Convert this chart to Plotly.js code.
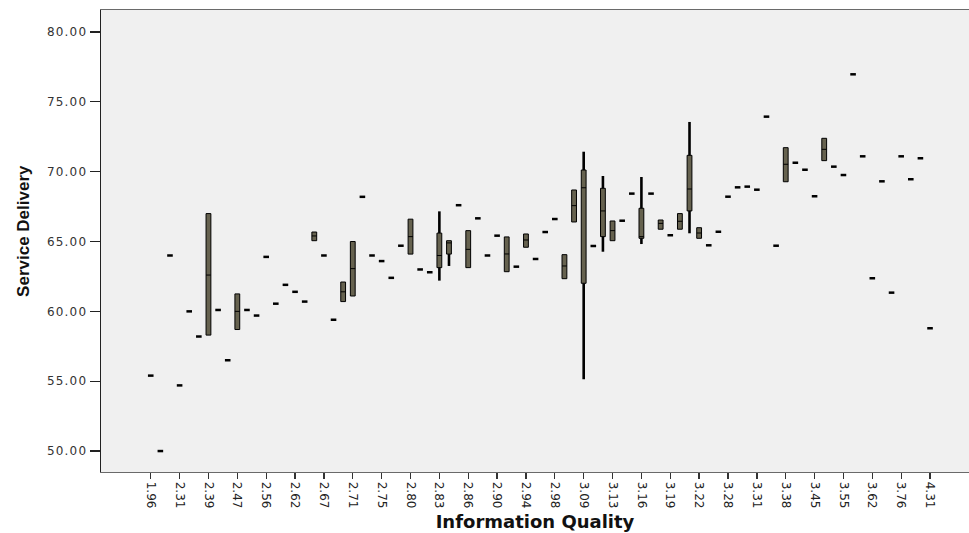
<!DOCTYPE html>
<html>
<head>
<meta charset="utf-8">
<script src="https://cdn.plot.ly/plotly-3.0.1.min.js"></script>
<style>
  html, body { margin: 0; padding: 0; background: #ffffff; }
  #chart { width: 969px; height: 533px; }
  .yaxislayer-above .ytick text { letter-spacing: 1.2px; }
</style>
</head>
<body>
<div id="chart"></div>
<script>
// Tick labels shown on the x axis (every third category position)
const tickLabels = ['1.96','2.31','2.39','2.47','2.56','2.62','2.67','2.71','2.75','2.80',
  '2.83','2.86','2.90','2.94','2.98','3.09','3.13','3.16','3.19','3.22',
  '3.28','3.31','3.38','3.45','3.55','3.62','3.76','4.31'];
const labelStep = 3;

// Categories holding a single case (category position, value)
const singleIdx = [0,1,2,3,4,5,7,8,10,11,12,13,14,15,16,18,19,22,23,24,25,26,28,29,32,34,35,36,38,40,41,42,46,49,50,52,54,58,59,60,61,62,63,64,65,67,68,69,71,72,73,74,75,76,77,78,79,80,81];
const singleVal = [55.4,50.0,64.0,54.7,60.0,58.2,60.1,56.5,60.1,59.7,63.9,60.55,61.9,61.4,60.7,64.0,59.4,68.2,64.0,63.6,62.4,64.7,63.0,62.8,67.6,66.66,64.0,65.42,63.2,63.75,65.68,66.61,64.68,66.49,68.43,68.43,65.45,64.73,65.7,68.21,68.88,68.93,68.71,73.94,64.7,70.64,70.14,68.24,70.36,69.76,76.97,71.1,62.37,69.31,61.34,71.1,69.46,70.96,58.79];

// Categories drawn as boxes
const boxIdx  = [6,9,17,20,21,27,30,31,33,37,39,43,44,45,47,48,51,53,55,56,57,66,70];
const boxLow  = [58.3,58.7,65.06,60.7,61.1,64.1,62.2,63.25,63.13,62.84,64.59,62.34,66.4,55.14,64.27,65.06,64.82,65.88,65.88,65.59,65.23,69.28,70.79];
const boxQ1   = [58.3,58.7,65.06,60.7,61.1,64.1,63.13,64.1,63.13,62.84,64.59,62.34,66.4,62.01,65.35,65.06,65.23,65.88,65.88,67.19,65.23,69.28,70.79];
const boxMed  = [62.6,60.0,65.4,61.4,63.06,65.35,64.0,64.9,64.44,64.11,65.11,63.25,67.57,68.85,67.19,65.78,65.35,66.3,66.45,68.76,65.61,70.53,71.6];
const boxQ3   = [67.0,61.25,65.68,62.1,65.0,66.6,65.6,65.06,65.78,65.33,65.54,64.06,68.69,70.12,68.81,66.47,67.38,66.54,67.0,71.17,65.99,71.72,72.39];
const boxHigh = [67.0,61.25,65.68,62.1,65.0,66.6,67.16,65.06,65.78,65.33,65.54,64.06,68.69,71.43,69.69,66.47,69.62,66.54,67.0,73.56,65.99,71.72,72.39];

const yTicks = [50,55,60,65,70,75,80];

// whisker segments built from the box arrays
const wx = [], wy = [];
boxIdx.forEach((p, k) => {
  if (boxLow[k] < boxQ1[k]) { wx.push(p, p, null); wy.push(boxLow[k], boxQ1[k], null); }
  if (boxHigh[k] > boxQ3[k]) { wx.push(p, p, null); wy.push(boxQ3[k], boxHigh[k], null); }
});

const traces = [
  {
    type: 'scatter', mode: 'lines', x: wx, y: wy,
    line: { color: '#000000', width: 2.6 }, hoverinfo: 'skip', showlegend: false
  },
  {
    type: 'box', x: boxIdx, q1: boxQ1, median: boxMed, q3: boxQ3,
    lowerfence: boxQ1, upperfence: boxQ3,
    width: 0.5, whiskerwidth: 0,
    fillcolor: '#66624f', line: { color: '#000000', width: 1 },
    hoverinfo: 'skip', showlegend: false
  },
  {
    type: 'scatter', mode: 'markers', x: singleIdx, y: singleVal,
    marker: { symbol: 'line-ew', size: 4, color: '#000000', line: { color: '#000000', width: 2.5 } },
    hoverinfo: 'skip', showlegend: false
  }
];

const layout = {
  width: 969, height: 533,
  margin: { l: 101, r: 0, t: 10, b: 61 },
  paper_bgcolor: '#ffffff', plot_bgcolor: '#f0f0f0',
  showlegend: false,
  xaxis: {
    range: [-5.17, 85.05],
    tickmode: 'array',
    tickvals: tickLabels.map((_, i) => i * labelStep),
    ticktext: tickLabels,
    tickangle: 90,
    ticks: 'outside', ticklen: 6, tickcolor: '#333333', tickwidth: 1.3,
    tickfont: { family: 'DejaVu Sans, sans-serif', size: 12, color: '#222222' },
    showline: true, linecolor: '#6a6a6a', linewidth: 1.3, mirror: true,
    showgrid: false, zeroline: false,
    title: { text: 'Information Quality', standoff: 8,
             font: { family: 'DejaVu Sans, sans-serif', size: 18, color: '#111111', weight: 'bold' } }
  },
  yaxis: {
    range: [48.5, 81.575],
    tickmode: 'array',
    tickvals: yTicks,
    ticktext: yTicks.map(v => v.toFixed(2)),
    ticks: 'outside', ticklen: 10, tickcolor: '#222222', tickwidth: 1.3,
    tickfont: { family: 'DejaVu Sans, sans-serif', size: 12, color: '#333333' },
    showline: true, linecolor: '#222222', linewidth: 1.3,
    showgrid: false, zeroline: false
  },
  annotations: [{
    text: 'Service Delivery', textangle: -90,
    xref: 'paper', yref: 'paper', x: -0.09, y: 0.5216,
    xanchor: 'center', yanchor: 'middle', showarrow: false,
    font: { family: 'Liberation Sans, Arial, sans-serif', size: 17, color: '#111111', weight: 'bold' }
  }]
};

Plotly.newPlot('chart', traces, layout, { staticPlot: true, displayModeBar: false });
</script>
</body>
</html>
